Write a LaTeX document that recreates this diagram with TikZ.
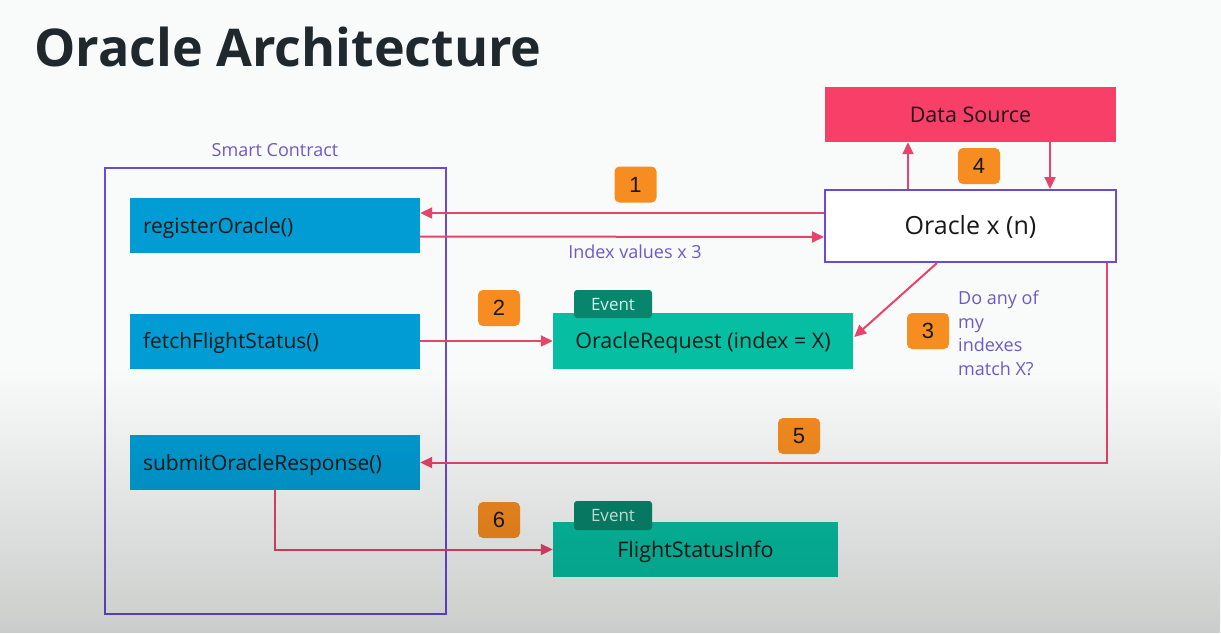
\documentclass[tikz,border=0pt]{standalone}
\usepackage{fontspec}
\setmainfont{Open Sans}
\newfontfamily\numfont{Liberation Sans}
\usetikzlibrary{arrows.meta,fadings}
\definecolor{bgc}{HTML}{F8FBF9}
\definecolor{scpurple}{HTML}{6A4BD6}
\definecolor{txtpurple}{HTML}{7158C8}
\definecolor{fnblue}{HTML}{009CD3}
\definecolor{dsred}{HTML}{F83F67}
\definecolor{evteal}{HTML}{06BFA3}
\definecolor{tabteal}{HTML}{07866D}
\definecolor{tabtxt}{HTML}{D5F2E8}
\definecolor{badgeor}{HTML}{F78C20}
\definecolor{arrred}{HTML}{E8436A}
\definecolor{titlec}{HTML}{1E282D}
\tikzfading[name=fadedown, top color=transparent!100, bottom color=transparent!0]
\tikzset{
  captxt/.style={text height=#1, text depth=0pt},
  fnbox/.style={fill=fnblue, minimum width=290pt, minimum height=55pt, text width=264pt, align=left, inner xsep=13pt, font=\fontsize{21}{25}\selectfont, text=black!90, captxt=15pt},
  evbox/.style={fill=evteal, minimum height=56pt, font=\fontsize{21.5}{25}\selectfont, text=black!90, captxt=15.4pt},
  evtab/.style={fill=tabteal, rounded corners=3pt, minimum width=78pt, minimum height=28pt, font=\fontsize{17}{20}\selectfont, text=tabtxt, inner sep=0pt, captxt=12.1pt},
  badge/.style={fill=badgeor, rounded corners=5pt, minimum width=42pt, minimum height=36pt, inner sep=0pt, font=\numfont\fontsize{22}{24}\selectfont, text=black!90, captxt=15.8pt},
  conn/.style={draw=arrred, line width=2pt, -{Triangle[length=12pt,width=11pt]}},
  note/.style={text=txtpurple, font=\fontsize{18}{23.5}\selectfont}
}
\begin{document}
\begin{tikzpicture}[x=1pt,y=-1pt]
\fill[bgc] (0,0) rectangle (1221,633);
\useasboundingbox (0,0) rectangle (1221,633);
% title
\node[anchor=base west, inner sep=0pt, text=titlec, font=\bfseries\fontsize{52}{58}\selectfont] (title) at (34,66) {Oracle Architecture};
% smart contract
\node[draw=scpurple, line width=2pt, minimum width=341pt, minimum height=446pt] (sc) at (275.5,391) {};
\node[note] (sclabel) at (275,150) {Smart Contract};
\node[fnbox] (ro) at (275,225.5) {registerOracle()};
\node[fnbox] (ffs) at (275,341) {fetchFlightStatus()};
\node[fnbox] (sor) at (275,462.5) {submitOracleResponse()};
% data source and oracle
\node[fill=dsred, minimum width=291pt, minimum height=55pt, font=\fontsize{21.5}{25}\selectfont, text=black!90, captxt=15.4pt] (ds) at (970.5,114.5) {Data Source};
\node[draw=scpurple, fill=white, line width=2pt, minimum width=291pt, minimum height=72pt, font=\fontsize{25}{29}\selectfont, text=black!90, captxt=17.9pt] (orc) at (970.5,226) {Oracle x (n)};
% events
\node[evbox, minimum width=300pt] (oreq) at (703,341) {OracleRequest (index = X)};
\node[evtab] (tab1) at (613,304) {Event};
\node[evbox, minimum width=285pt, minimum height=55pt] (fsi) at (695.5,549.5) {FlightStatusInfo};
\node[evtab, minimum height=29pt] (tab2) at (613,515.5) {Event};
% connectors
\draw[conn] ([yshift=13pt]orc.west) -- ([yshift=12.5pt]ro.east);
\draw[conn] ([yshift=-11pt]ro.east) -- ([yshift=-11pt]orc.west);
\node[note] (idx) at (635,252) {Index values x 3};
\draw[conn] ([xshift=-62.5pt]orc.north) -- ([xshift=-62.5pt]ds.south);
\draw[conn] ([xshift=79.5pt]ds.south) -- ([xshift=79.5pt]orc.north);
\draw[conn] (ffs.east) -- (oreq.west);
\draw[conn] ([xshift=-33.5pt]orc.south) -- ([xshift=1pt,yshift=4pt]oreq.east);
\draw[conn] ([xshift=-10pt]orc.south east) |- (sor.east);
\draw[conn] (sor.south) |- (fsi.west);
% badges
\node[badge] (b1) at (635.5,184.5) {1};
\node[badge] (b4) at (979,166) {4};
\node[badge] (b2) at (499,308) {2};
\node[badge] (b3) at (928,331) {3};
\node[badge] (b5) at (799,436) {5};
\node[badge] (b6) at (499,520) {6};
\node[note, anchor=north west, align=left, inner sep=0pt] (q) at (958,291) {Do any of\\my\\indexes\\match X?};
% video gradient overlay
\fill[black, fill opacity=0.18, path fading=fadedown] (0,370) rectangle (1221,633);
\end{tikzpicture}
\end{document}
